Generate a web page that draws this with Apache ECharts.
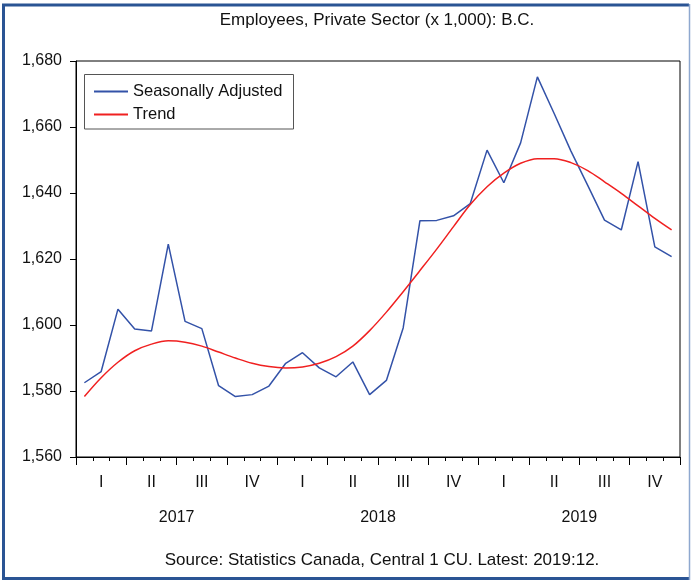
<!DOCTYPE html>
<html>
<head>
<meta charset="utf-8">
<script src="https://cdn.jsdelivr.net/npm/echarts@6/dist/echarts.min.js"></script>
<style>
html,body{margin:0;padding:0;background:#fff;}
#c{width:691px;height:581px;}
</style>
</head>
<body>
<div id="c"></div>
<script>
var months = [];
var years = ['2017', '2018', '2019'];
var quarterNames = ['I', 'II', 'III', 'IV'];
years.forEach(function (y) { for (var m = 1; m <= 12; m++) months.push(y + ':' + (m < 10 ? '0' + m : m)); });
var quarters = [];
years.forEach(function (y) { quarterNames.forEach(function (q) { quarters.push(q); }); });

var seasonallyAdjusted = [
  1582.5, 1585.9, 1604.8, 1598.8, 1598.2, 1624.5, 1601.1, 1598.9, 1581.6, 1578.3, 1578.9, 1581.5,
  1588.4, 1591.6, 1587.0, 1584.3, 1588.8, 1578.9, 1583.2, 1599.1, 1631.6, 1631.7, 1633.1, 1636.8,
  1653.0, 1643.1, 1655.2, 1675.2, 1664.1, 1652.7, 1642.3, 1631.8, 1628.8, 1649.5, 1623.7, 1620.7
];
var trend = [
  1578.3, 1584.0, 1588.7, 1592.2, 1594.2, 1595.2, 1594.8, 1593.6, 1591.8, 1590.0, 1588.4, 1587.4,
  1587.0, 1587.3, 1588.4, 1590.4, 1593.6, 1598.3, 1603.9, 1610.1, 1616.5, 1623.0, 1629.8, 1636.5,
  1641.9, 1646.0, 1649.0, 1650.4, 1650.4, 1649.2, 1646.8, 1643.4, 1639.9, 1636.1, 1632.3, 1628.8
];
var yTicks = {min: 1560, max: 1680, interval: 20};

var FONT = '"Liberation Sans", Arial, sans-serif';
var chart = echarts.init(document.getElementById('c'), null, {renderer: 'canvas'});
var option = {
  animation: false,
  backgroundColor: '#fff',
  grid: {left: 76, right: 11, top: 61, bottom: 124, show: true, borderColor: '#000', borderWidth: 1, backgroundColor: 'transparent'},
  legend: {
    orient: 'vertical', left: 88, top: 78, itemWidth: 34, itemHeight: 14, itemGap: 6,
    itemStyle: {opacity: 0},
    textStyle: {fontFamily: FONT, fontSize: 16.5, color: '#111'},
    data: ['Seasonally Adjusted', 'Trend']
  },
  xAxis: [
    {
      type: 'category', data: months, boundaryGap: true, position: 'bottom',
      axisLine: {show: true, lineStyle: {color: '#000', width: 1}},
      axisTick: {show: true, interval: 0, length: 4, lineStyle: {color: '#000'}},
      axisLabel: {show: false}, splitLine: {show: false}
    },
    {
      type: 'category', data: quarters, boundaryGap: true, position: 'bottom',
      axisLine: {show: false},
      axisTick: {show: true, interval: 0, length: 8, lineStyle: {color: '#000'}},
      axisLabel: {show: true, interval: 0, margin: 18, fontFamily: FONT, fontSize: 16, color: '#111'},
      splitLine: {show: false}
    },
    {
      type: 'category', data: years, boundaryGap: true, position: 'bottom',
      axisLine: {show: false}, axisTick: {show: false},
      axisLabel: {show: true, interval: 0, margin: 53, fontFamily: FONT, fontSize: 16, color: '#111'},
      splitLine: {show: false}
    }
  ],
  yAxis: {
    type: 'value', min: yTicks.min, max: yTicks.max, interval: yTicks.interval,
    axisLine: {show: true, lineStyle: {color: '#000'}},
    axisTick: {show: true, length: 6, lineStyle: {color: '#000'}},
    axisLabel: {margin: 14, fontFamily: FONT, fontSize: 16, color: '#111',
      formatter: function (v) { return v.toLocaleString('en-US'); }},
    splitLine: {show: false}
  },
  series: [
    {name: 'Seasonally Adjusted', type: 'line', data: seasonallyAdjusted, symbol: 'none',
      lineStyle: {color: '#3352A8', width: 1.5}, itemStyle: {color: '#3352A8'}},
    {name: 'Trend', type: 'line', data: trend, symbol: 'none', smooth: 0.35,
      lineStyle: {color: '#F02020', width: 1.5}, itemStyle: {color: '#F02020'}}
  ],
  graphic: [
    {type: 'rect', shape: {x: 84.5, y: 74.5, width: 209, height: 54.5},
      style: {fill: 'none', stroke: '#555', lineWidth: 1}, z: 100},
    {type: 'text', x: 377, y: 20,
      style: {text: 'Employees, Private Sector (x 1,000): B.C.', font: '17px ' + FONT, fill: '#111', textAlign: 'center', textVerticalAlign: 'middle'}},
    {type: 'text', x: 382, y: 560,
      style: {text: 'Source: Statistics Canada, Central 1 CU. Latest: 2019:12.', font: '17px ' + FONT, fill: '#111', textAlign: 'center', textVerticalAlign: 'middle'}},
    {type: 'polyline', shape: {points: [[689, 5], [3.5, 5], [3.5, 578.5], [689, 578.5]]},
      style: {fill: 'none', stroke: '#2A5494', lineWidth: 3}},
    {type: 'line', shape: {x1: 689.5, y1: 4, x2: 689.5, y2: 580},
      style: {stroke: '#8EA8CF', lineWidth: 1.5}}
  ]
};
chart.setOption(option);
</script>
</body>
</html>
